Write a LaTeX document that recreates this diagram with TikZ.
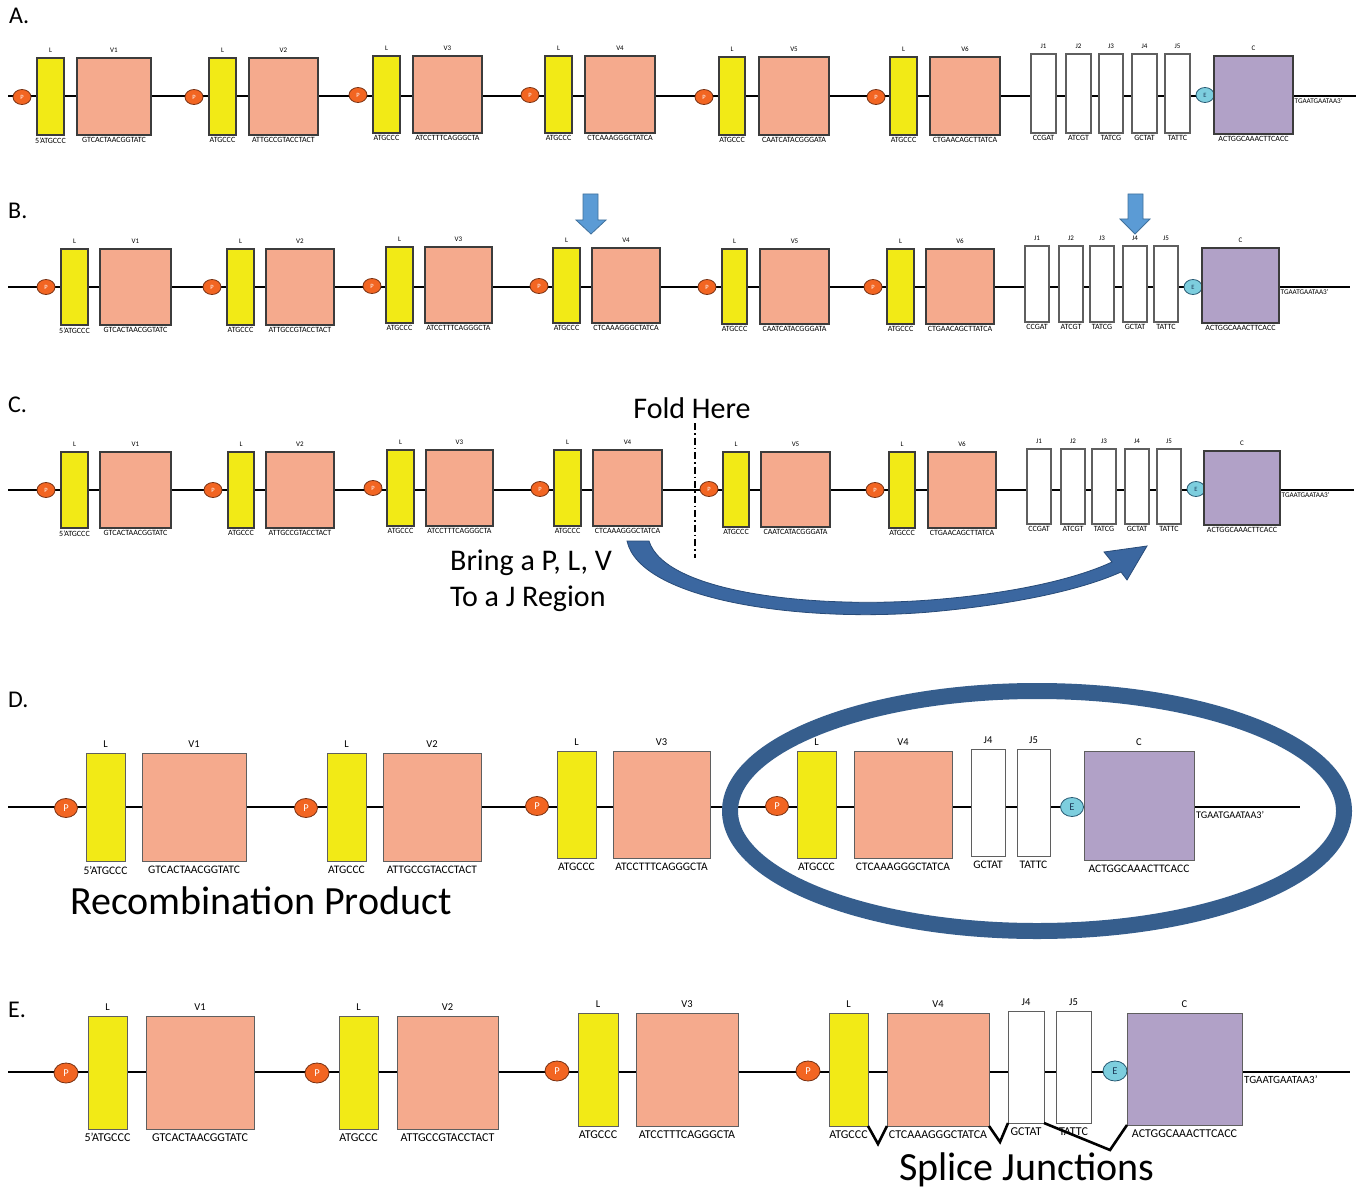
\documentclass[tikz,border=0pt]{standalone}
\usepackage{fontspec}
\setmainfont{Carlito}
\usetikzlibrary{shapes.geometric}
\definecolor{ylw}{RGB}{242,234,22}
\definecolor{salmon}{RGB}{245,170,141}
\definecolor{purp}{RGB}{177,161,199}
\definecolor{porange}{RGB}{242,101,34}
\definecolor{pborder}{RGB}{120,50,20}
\definecolor{ecyan}{RGB}{125,206,222}
\definecolor{eborder}{RGB}{40,90,115}
\definecolor{etext}{RGB}{30,60,90}
\definecolor{boxgray}{RGB}{60,60,60}
\definecolor{jgray}{RGB}{95,95,95}
\definecolor{dblue}{RGB}{54,94,141}
\definecolor{arrowblue}{RGB}{59,103,160}
\definecolor{arrowedge}{RGB}{40,75,120}
\definecolor{lblue}{RGB}{91,155,213}
\definecolor{lbedge}{RGB}{65,113,156}
\newcommand{\gseg}[8]{%
  \node[#2, minimum width={(#5-#3)*1pt}, minimum height={(#6-#4)*1pt}] (#1) at ({(#3+#5)/2},{(#4+#6)/2}) {};
  \node[toplab] (#1-t) at (#1.north) {#7};
  \node[seqlab] (#1-s) at (#1.south) {#8};
}
\begin{document}
\begin{tikzpicture}[x=1pt,y=-1pt,
  box/.style={draw=boxgray, line width=1.1pt, inner sep=0pt, outer sep=0pt},
  Lbox/.style={box, fill=ylw},
  Vbox/.style={box, fill=salmon},
  Jbox/.style={box, fill=white, draw=jgray},
  Cbox/.style={box, fill=purp},
  pnode/.style={ellipse, draw=pborder, fill=porange, text=white, inner sep=0pt, line width=0.8pt},
  enode/.style={ellipse, draw=eborder, fill=ecyan, text=etext, inner sep=0pt, line width=0.8pt},
  backbone/.style={line width=1.2pt, black},
  rowlab/.style={anchor=base west, inner sep=0pt, font=\fontsize{24}{26}\selectfont},
  bigtext/.style={inner sep=0pt, font=\fontsize{30}{33}\selectfont},
  smallrow/.style={
    toplab/.style={anchor=base,yshift=5.5pt,inner sep=0pt,font=\fontsize{7}{8}\selectfont},
    seqlab/.style={anchor=north,yshift=-2.5pt,inner sep=0pt,font=\fontsize{8}{9}\selectfont},
    tail/.style={anchor=north west,inner sep=0pt,xshift=1.5pt,yshift=-2.5pt,font=\fontsize{7.2}{8}\selectfont},
    pe/.style={minimum width=18pt,minimum height=15pt,font=\fontsize{6.5}{7}\selectfont}},
  bigrow/.style={
    box/.style={draw=jgray, line width=0.9pt, inner sep=0pt, outer sep=0pt},
    toplab/.style={anchor=base,yshift=5.5pt,inner sep=0pt,font=\fontsize{10.5}{12}\selectfont},
    seqlab/.style={anchor=north,yshift=-5pt,inner sep=0pt,font=\fontsize{11.5}{13}\selectfont},
    tail/.style={anchor=north west,inner sep=0pt,xshift=2pt,yshift=-4pt,font=\fontsize{10.2}{12}\selectfont},
    pe/.style={minimum width=23pt,minimum height=19pt,font=\fontsize{10.5}{12}\selectfont}}
]
\useasboundingbox (0,0) rectangle (1356,1190);
\fill[white] (0,0) rectangle (1356,1190);

% ---------------- Row A ----------------
\node[rowlab] (labA) at (9,24) {A.};
\begin{scope}[smallrow]
\coordinate (A-start) at (8,96);
\coordinate (A-end) at (1356,96);
\draw[backbone] (A-start) -- (A-end);
\node[pnode,pe] (A-P1) at (22,97) {P};
\gseg{A-L1}{Lbox}{37}{58}{64}{135}{L}{5'ATGCCC}
\gseg{A-V1}{Vbox}{77}{58}{151}{135}{V1}{GTCACTAACGGTATC}
\node[pnode,pe] (A-P2) at (194,97) {P};
\gseg{A-L2}{Lbox}{209}{58}{236}{135}{L}{ATGCCC}
\gseg{A-V2}{Vbox}{249}{58}{318}{135}{V2}{ATTGCCGTACCTACT}
\node[pnode,pe] (A-P3) at (358,95) {P};
\gseg{A-L3}{Lbox}{373}{56}{400}{133}{L}{ATGCCC}
\gseg{A-V3}{Vbox}{413}{56}{482}{133}{V3}{ATCCTTTCAGGGCTA}
\node[pnode,pe] (A-P4) at (530,95) {P};
\gseg{A-L4}{Lbox}{545}{56}{572}{133}{L}{ATGCCC}
\gseg{A-V4}{Vbox}{585}{56}{655}{133}{V4}{CTCAAAGGGCTATCA}
\node[pnode,pe] (A-P5) at (704,97) {P};
\gseg{A-L5}{Lbox}{719}{57}{745}{135}{L}{ATGCCC}
\gseg{A-V5}{Vbox}{759}{57}{829}{135}{V5}{CAATCATACGGGATA}
\node[pnode,pe] (A-P6) at (876,97) {P};
\gseg{A-L6}{Lbox}{890}{57}{917}{135}{L}{ATGCCC}
\gseg{A-V6}{Vbox}{930}{57}{1000}{135}{V6}{CTGAACAGCTTATCA}
\gseg{A-J1}{Jbox}{1031}{54}{1056}{133}{J1}{CCGAT}
\gseg{A-J2}{Jbox}{1066}{54}{1091}{133}{J2}{ATCGT}
\gseg{A-J3}{Jbox}{1099}{54}{1123}{133}{J3}{TATCG}
\gseg{A-J4}{Jbox}{1132}{54}{1157}{133}{J4}{GCTAT}
\gseg{A-J5}{Jbox}{1165}{54}{1190}{133}{J5}{TATTC}
\node[enode,pe] (A-E) at (1205,95) {E};
\gseg{A-C}{Cbox}{1214}{56}{1293}{134}{C}{ACTGGCAAACTTCACC}
\node[tail] (A-tail) at (A-C.east |- A-start) {TGAATGAATAA3'};
\end{scope}

% ---------------- Row B ----------------
\node[rowlab] (labB) at (8,219) {B.};
\begin{scope}[smallrow]
\coordinate (B-start) at (8,287);
\coordinate (B-end) at (1350,287);
\draw[backbone] (B-start) -- (B-end);
\node[pnode,pe] (B-P1) at (46,287) {P};
\gseg{B-L1}{Lbox}{61}{249}{88}{325}{L}{5'ATGCCC}
\gseg{B-V1}{Vbox}{100}{249}{171}{325}{V1}{GTCACTAACGGTATC}
\node[pnode,pe] (B-P2) at (212,287) {P};
\gseg{B-L2}{Lbox}{227}{249}{254}{325}{L}{ATGCCC}
\gseg{B-V2}{Vbox}{266}{249}{334}{325}{V2}{ATTGCCGTACCTACT}
\node[pnode,pe] (B-P3) at (372,286) {P};
\gseg{B-L3}{Lbox}{386}{247}{413}{323}{L}{ATGCCC}
\gseg{B-V3}{Vbox}{425}{247}{492}{323}{V3}{ATCCTTTCAGGGCTA}
\node[pnode,pe] (B-P4) at (539,286) {P};
\gseg{B-L4}{Lbox}{553}{248}{580}{323}{L}{ATGCCC}
\gseg{B-V4}{Vbox}{592}{248}{660}{323}{V4}{CTCAAAGGGCTATCA}
\node[pnode,pe] (B-P5) at (707,287) {P};
\gseg{B-L5}{Lbox}{722}{249}{747}{324}{L}{ATGCCC}
\gseg{B-V5}{Vbox}{760}{249}{829}{324}{V5}{CAATCATACGGGATA}
\node[pnode,pe] (B-P6) at (873,287) {P};
\gseg{B-L6}{Lbox}{887}{249}{914}{324}{L}{ATGCCC}
\gseg{B-V6}{Vbox}{926}{249}{994}{324}{V6}{CTGAACAGCTTATCA}
\gseg{B-J1}{Jbox}{1025}{246}{1049}{322}{J1}{CCGAT}
\gseg{B-J2}{Jbox}{1059}{246}{1083}{322}{J2}{ATCGT}
\gseg{B-J3}{Jbox}{1090}{246}{1114}{322}{J3}{TATCG}
\gseg{B-J4}{Jbox}{1123}{246}{1147}{322}{J4}{GCTAT}
\gseg{B-J5}{Jbox}{1154}{246}{1178}{322}{J5}{TATTC}
\node[enode,pe] (B-E) at (1193,287) {E};
\gseg{B-C}{Cbox}{1202}{248}{1279}{323}{C}{ACTGGCAAACTTCACC}
\node[tail] (B-tail) at (B-C.east |- B-start) {TGAATGAATAA3'};
\end{scope}
\draw[fill=lblue, draw=lbedge, line width=0.8pt] (583,194) -- (598,194) -- (598,220) -- (606,220) -- (591,234) -- (576,220) -- (583,220) -- cycle;
\draw[fill=lblue, draw=lbedge, line width=0.8pt] (1128,194) -- (1143,194) -- (1143,219) -- (1150,219) -- (1135,234) -- (1120,219) -- (1128,219) -- cycle;

% ---------------- Row C ----------------
\node[rowlab] (labC) at (8,412) {C.};
\begin{scope}[smallrow]
\coordinate (C-start) at (8,490);
\coordinate (C-end) at (1354,490);
\draw[backbone] (C-start) -- (C-end);
\node[pnode,pe] (C-P1) at (46,490) {P};
\gseg{C-L1}{Lbox}{61}{452}{88}{528}{L}{5'ATGCCC}
\gseg{C-V1}{Vbox}{100}{452}{171}{528}{V1}{GTCACTAACGGTATC}
\node[pnode,pe] (C-P2) at (213,490) {P};
\gseg{C-L2}{Lbox}{228}{452}{254}{528}{L}{ATGCCC}
\gseg{C-V2}{Vbox}{266}{452}{334}{528}{V2}{ATTGCCGTACCTACT}
\node[pnode,pe] (C-P3) at (373,488) {P};
\gseg{C-L3}{Lbox}{387}{450}{414}{526}{L}{ATGCCC}
\gseg{C-V3}{Vbox}{426}{450}{493}{526}{V3}{ATCCTTTCAGGGCTA}
\node[pnode,pe] (C-P4) at (540,489) {P};
\gseg{C-L4}{Lbox}{554}{450}{581}{526}{L}{ATGCCC}
\gseg{C-V4}{Vbox}{593}{450}{662}{526}{V4}{CTCAAAGGGCTATCA}
\node[pnode,pe] (C-P5) at (709,489) {P};
\gseg{C-L5}{Lbox}{723}{452}{749}{527}{L}{ATGCCC}
\gseg{C-V5}{Vbox}{761}{452}{830}{527}{V5}{CAATCATACGGGATA}
\node[pnode,pe] (C-P6) at (875,490) {P};
\gseg{C-L6}{Lbox}{889}{452}{915}{528}{L}{ATGCCC}
\gseg{C-V6}{Vbox}{928}{452}{996}{528}{V6}{CTGAACAGCTTATCA}
\gseg{C-J1}{Jbox}{1027}{449}{1051}{524}{J1}{CCGAT}
\gseg{C-J2}{Jbox}{1061}{449}{1085}{524}{J2}{ATCGT}
\gseg{C-J3}{Jbox}{1092}{449}{1116}{524}{J3}{TATCG}
\gseg{C-J4}{Jbox}{1125}{449}{1149}{524}{J4}{GCTAT}
\gseg{C-J5}{Jbox}{1157}{449}{1181}{524}{J5}{TATTC}
\node[enode,pe] (C-E) at (1196,489) {E};
\gseg{C-C}{Cbox}{1204}{451}{1280}{525}{C}{ACTGGCAAACTTCACC}
\node[tail] (C-tail) at (C-C.east |- C-start) {TGAATGAATAA3'};
\end{scope}
\coordinate (fold-top) at (695,423);
\coordinate (fold-bot) at (695,558);
\draw[line width=1.5pt, dash pattern=on 7pt off 3pt on 1.5pt off 3pt] (fold-top) -- (fold-bot);
\node[bigtext] (foldtxt) at (692,408) {Fold Here};
\node[bigtext, anchor=base west] (bring1) at (450,570) {Bring a P, L, V};
\node[bigtext, anchor=base west] (bring2) at (450,606) {To a J Region};
\draw[fill=arrowblue, draw=arrowedge, line width=0.8pt]
  (627,541) .. controls (640,600) and (800,623) .. (930,612)
  .. controls (1030,603) and (1090,586) .. (1121,572)
  -- (1127,580) -- (1147,546) -- (1104,552) -- (1112,562)
  .. controls (1080,577) and (1020,593) .. (930,600)
  .. controls (810,609) and (665,592) .. (649,541) -- cycle;

% ---------------- Row D ----------------
\node[rowlab] (labD) at (8,707) {D.};
\begin{scope}[bigrow]
\coordinate (D-start) at (8,807);
\coordinate (D-end) at (1300,807);
\draw[backbone] (D-start) -- (D-end);
\node[pnode,pe] (D-P1) at (66,808) {P};
\gseg{D-L1}{Lbox}{86}{753}{125}{861}{L}{5'ATGCCC}
\gseg{D-V1}{Vbox}{142}{753}{246}{861}{V1}{GTCACTAACGGTATC}
\node[pnode,pe] (D-P2) at (306,808) {P};
\gseg{D-L2}{Lbox}{327}{753}{366}{861}{L}{ATGCCC}
\gseg{D-V2}{Vbox}{383}{753}{481}{861}{V2}{ATTGCCGTACCTACT}
\node[pnode,pe] (D-P3) at (537,806) {P};
\gseg{D-L3}{Lbox}{557}{751}{596}{858}{L}{ATGCCC}
\gseg{D-V3}{Vbox}{613}{751}{710}{858}{V3}{ATCCTTTCAGGGCTA}
\node[pnode,pe] (D-P4) at (777,806) {P};
\gseg{D-L4}{Lbox}{797}{751}{836}{858}{L}{ATGCCC}
\gseg{D-V4}{Vbox}{854}{751}{952}{858}{V4}{CTCAAAGGGCTATCA}
\gseg{D-J4}{Jbox}{971}{749}{1005}{856}{J4}{GCTAT}
\gseg{D-J5}{Jbox}{1017}{749}{1050}{856}{J5}{TATTC}
\node[enode,pe] (D-E) at (1072,807) {E};
\gseg{D-C}{Cbox}{1084}{751}{1194}{860}{C}{ACTGGCAAACTTCACC}
\node[tail] (D-tail) at (D-C.east |- D-start) {TGAATGAATAA3'};
\end{scope}
\draw[line width=16pt, dblue] (1037,811) ellipse [x radius=307pt, y radius=120pt];
\node[inner sep=0pt, anchor=base west, font=\fontsize{40}{44}\selectfont] (recomb) at (70,914) {Recombination Product};

% ---------------- Row E ----------------
\node[rowlab] (labE) at (8,1017) {E.};
\begin{scope}[bigrow, seqlab/.style={anchor=north,yshift=-4pt,inner sep=0pt,font=\fontsize{12}{14}\selectfont},
  pe/.style={minimum width=24pt,minimum height=20pt,font=\fontsize{10.5}{12}\selectfont},
  tail/.style={anchor=north west,inner sep=0pt,xshift=2pt,yshift=-3.5pt,font=\fontsize{11}{13}\selectfont}]
\coordinate (E-start) at (8,1072);
\coordinate (E-end) at (1350,1072);
\draw[backbone] (E-start) -- (E-end);
\node[pnode,pe] (E-P1) at (66,1073) {P};
\gseg{E-L1}{Lbox}{88}{1016}{127}{1129}{L}{5'ATGCCC}
\gseg{E-V1}{Vbox}{146}{1016}{254}{1129}{V1}{GTCACTAACGGTATC}
\node[pnode,pe] (E-P2) at (317,1073) {P};
\gseg{E-L2}{Lbox}{339}{1016}{378}{1129}{L}{ATGCCC}
\gseg{E-V2}{Vbox}{397}{1016}{498}{1129}{V2}{ATTGCCGTACCTACT}
\node[pnode,pe] (E-P3) at (557,1071) {P};
\gseg{E-L3}{Lbox}{578}{1013}{618}{1126}{L}{ATGCCC}
\gseg{E-V3}{Vbox}{636}{1013}{738}{1126}{V3}{ATCCTTTCAGGGCTA}
\node[pnode,pe] (E-P4) at (808,1071) {P};
\gseg{E-L4}{Lbox}{829}{1013}{868}{1126}{L}{ATGCCC}
\gseg{E-V4}{Vbox}{887}{1013}{989}{1126}{V4}{CTCAAAGGGCTATCA}
\gseg{E-J4}{Jbox}{1008}{1011}{1044}{1123}{J4}{GCTAT}
\gseg{E-J5}{Jbox}{1056}{1011}{1091}{1123}{J5}{TATTC}
\node[enode,pe] (E-E) at (1115,1071) {E};
\gseg{E-C}{Cbox}{1127}{1013}{1242}{1125}{C}{ACTGGCAAACTTCACC}
\node[tail] (E-tail) at (E-C.east |- E-start) {TGAATGAATAA3'};
\end{scope}
\coordinate (sj1) at (878,1144);
\coordinate (sj2) at (1000,1142);
\coordinate (sj3) at (1110,1150);
\draw[line width=2.6pt, line join=miter] (E-L4.south east) -- (sj1) -- (E-V4.south west);
\draw[line width=2.6pt, line join=miter] (E-V4.south east) -- (sj2) -- (E-J4.south west);
\draw[line width=2.6pt, line join=miter] (E-J4.south east) -- (sj3) -- (E-C.south west);
\node[inner sep=0pt, anchor=base west, font=\fontsize{40}{44}\selectfont] (splice) at (899,1180) {Splice Junctions};
\end{tikzpicture}
\end{document}
